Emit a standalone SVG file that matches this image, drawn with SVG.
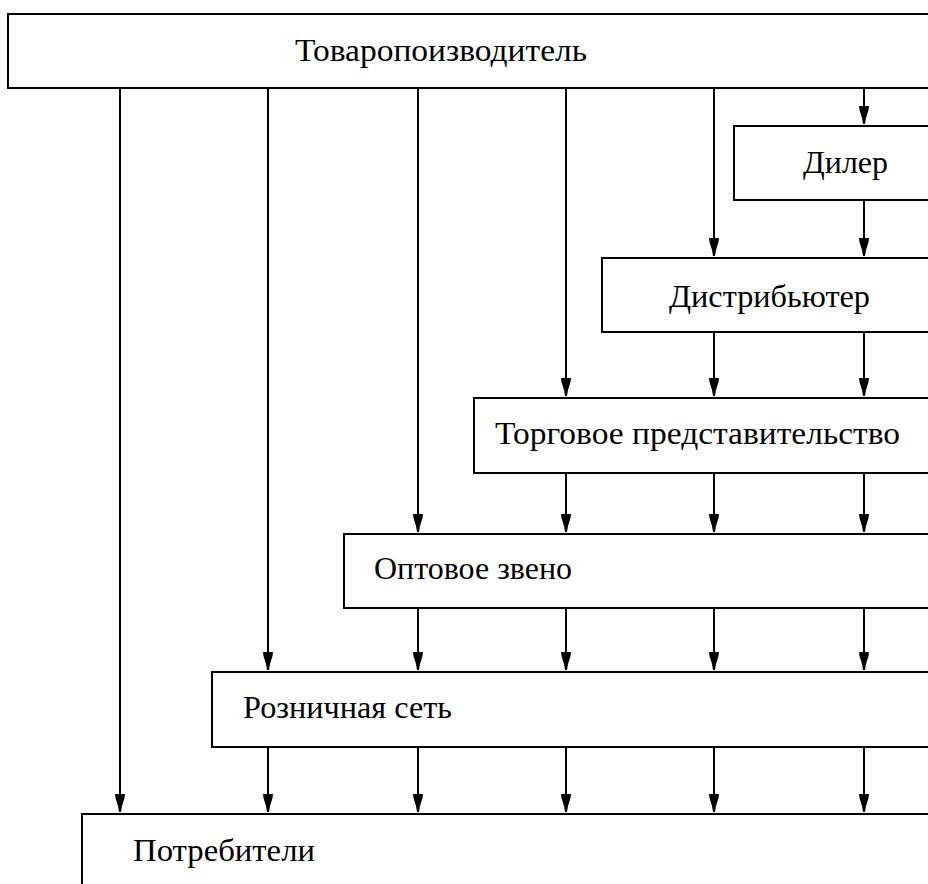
<svg xmlns="http://www.w3.org/2000/svg" width="928" height="884" viewBox="0 0 928 884">
<style>
.box{fill:#fff;stroke:#000;stroke-width:2}
.lbl{font-size:31px;fill:#000}
.ln{stroke:#000;stroke-width:2;fill:none;marker-end:url(#ah)}
</style>
<defs>
<marker id="ah" markerUnits="userSpaceOnUse" markerWidth="12" markerHeight="20" viewBox="-6 -19 12 20" refX="0" refY="0" orient="auto" overflow="visible">
<polygon points="-5,-18 5,-18 4.5,-14 2,-6 1,0 -1,0 -2,-6 -4.5,-14" fill="#000" transform="rotate(-90)"/>
</marker>
</defs>
<rect width="928" height="884" fill="#fff"/>
<g id="node-producer"><rect class="box" x="8" y="14" width="940" height="74"/><text class="lbl" font-family="'Liberation Serif', 'Times New Roman', 'DejaVu Serif', serif" x="295" y="61" textLength="292" lengthAdjust="spacingAndGlyphs">Товаропоизводитель</text></g>
<g id="node-dealer"><rect class="box" x="734" y="126" width="214" height="74"/><text class="lbl" font-family="'Liberation Serif', 'Times New Roman', 'DejaVu Serif', serif" x="803" y="173" textLength="85" lengthAdjust="spacingAndGlyphs">Дилер</text></g>
<g id="node-distributor"><rect class="box" x="602" y="258" width="346" height="74"/><text class="lbl" font-family="'Liberation Serif', 'Times New Roman', 'DejaVu Serif', serif" x="669" y="307" textLength="201" lengthAdjust="spacingAndGlyphs">Дистрибьютер</text></g>
<g id="node-trade"><rect class="box" x="474" y="398" width="474" height="75"/><text class="lbl" font-family="'Liberation Serif', 'Times New Roman', 'DejaVu Serif', serif" x="495" y="444" textLength="405" lengthAdjust="spacingAndGlyphs">Торговое представительство</text></g>
<g id="node-wholesale"><rect class="box" x="344" y="534" width="604" height="74"/><text class="lbl" font-family="'Liberation Serif', 'Times New Roman', 'DejaVu Serif', serif" x="374" y="579" textLength="198" lengthAdjust="spacingAndGlyphs">Оптовое звено</text></g>
<g id="node-retail"><rect class="box" x="212" y="672" width="736" height="75"/><text class="lbl" font-family="'Liberation Serif', 'Times New Roman', 'DejaVu Serif', serif" x="243" y="718" textLength="209" lengthAdjust="spacingAndGlyphs">Розничная сеть</text></g>
<g id="node-consumers"><rect class="box" x="82" y="814" width="866" height="90"/><text class="lbl" font-family="'Liberation Serif', 'Times New Roman', 'DejaVu Serif', serif" x="133" y="861" textLength="182" lengthAdjust="spacingAndGlyphs">Потребители</text></g>
<g id="connectors">
<line class="ln" x1="120" y1="89" x2="120" y2="812"/>
<line class="ln" x1="268" y1="89" x2="268" y2="670"/>
<line class="ln" x1="268" y1="748" x2="268" y2="812"/>
<line class="ln" x1="418" y1="89" x2="418" y2="532"/>
<line class="ln" x1="418" y1="609" x2="418" y2="670"/>
<line class="ln" x1="418" y1="748" x2="418" y2="812"/>
<line class="ln" x1="566" y1="89" x2="566" y2="396"/>
<line class="ln" x1="566" y1="474" x2="566" y2="532"/>
<line class="ln" x1="566" y1="609" x2="566" y2="670"/>
<line class="ln" x1="566" y1="748" x2="566" y2="812"/>
<line class="ln" x1="714" y1="89" x2="714" y2="256"/>
<line class="ln" x1="714" y1="333" x2="714" y2="396"/>
<line class="ln" x1="714" y1="474" x2="714" y2="532"/>
<line class="ln" x1="714" y1="609" x2="714" y2="670"/>
<line class="ln" x1="714" y1="748" x2="714" y2="812"/>
<line class="ln" x1="864" y1="89" x2="864" y2="124"/>
<line class="ln" x1="864" y1="201" x2="864" y2="256"/>
<line class="ln" x1="864" y1="333" x2="864" y2="396"/>
<line class="ln" x1="864" y1="474" x2="864" y2="532"/>
<line class="ln" x1="864" y1="609" x2="864" y2="670"/>
<line class="ln" x1="864" y1="748" x2="864" y2="812"/>
</g>
</svg>
